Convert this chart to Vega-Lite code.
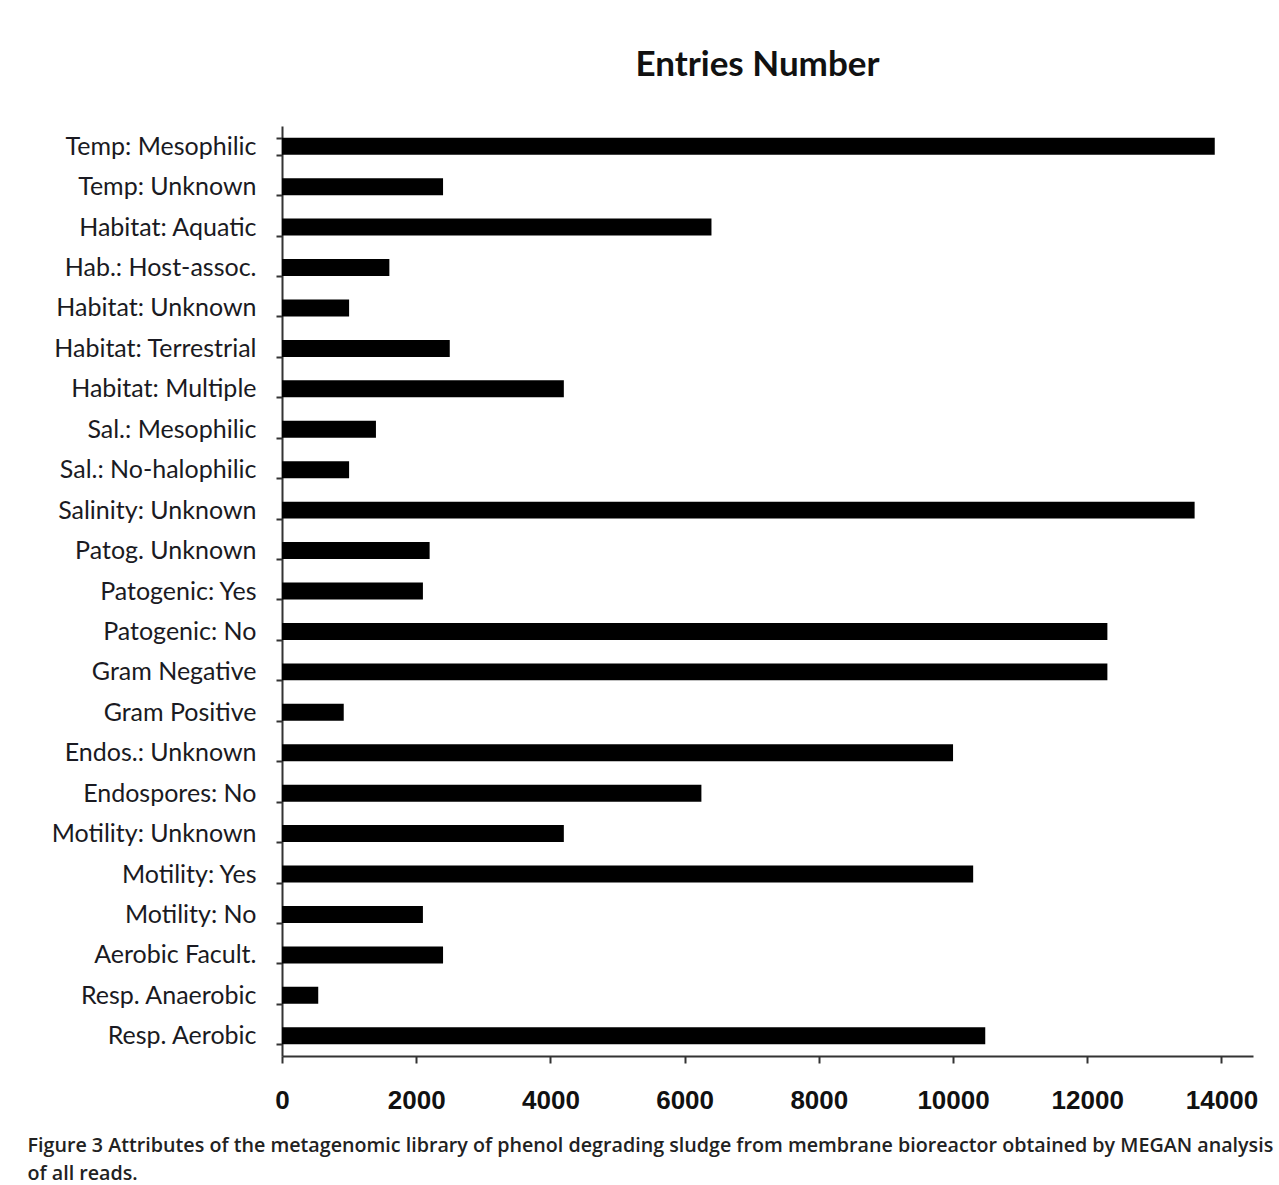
{
  "$schema": "https://vega.github.io/schema/vega-lite/v6.json",
  "width": 971,
  "height": 930,
  "autosize": {"type": "none"},
  "padding": {"left": 282, "top": 126, "right": 26, "bottom": 129},
  "background": "white",
  "title": {
    "text": "Entries Number",
    "font": "Lato",
    "fontSize": 35,
    "fontWeight": "bold",
    "color": "#111111",
    "anchor": "middle",
    "dx": -10,
    "offset": 31
  },
  "data": {
    "values": [
      {"attr": "Temp: Mesophilic", "n": 13900},
      {"attr": "Temp: Unknown", "n": 2400},
      {"attr": "Habitat: Aquatic", "n": 6400},
      {"attr": "Hab.: Host-assoc.", "n": 1600},
      {"attr": "Habitat: Unknown", "n": 1000},
      {"attr": "Habitat: Terrestrial", "n": 2500},
      {"attr": "Habitat: Multiple", "n": 4200},
      {"attr": "Sal.: Mesophilic", "n": 1400},
      {"attr": "Sal.: No-halophilic", "n": 1000},
      {"attr": "Salinity: Unknown", "n": 13600},
      {"attr": "Patog. Unknown", "n": 2200},
      {"attr": "Patogenic: Yes", "n": 2100},
      {"attr": "Patogenic: No", "n": 12300},
      {"attr": "Gram Negative", "n": 12300},
      {"attr": "Gram Positive", "n": 920},
      {"attr": "Endos.: Unknown", "n": 10000},
      {"attr": "Endospores: No", "n": 6250},
      {"attr": "Motility: Unknown", "n": 4200},
      {"attr": "Motility: Yes", "n": 10300},
      {"attr": "Motility: No", "n": 2100},
      {"attr": "Aerobic Facult.", "n": 2400},
      {"attr": "Resp. Anaerobic", "n": 540},
      {"attr": "Resp. Aerobic", "n": 10480}
    ]
  },
  "mark": {"type": "bar", "color": "#000000"},
  "encoding": {
    "y": {
      "field": "attr",
      "type": "nominal",
      "sort": null,
      "scale": {"paddingInner": 0.58, "paddingOuter": 0.29},
      "axis": {
        "title": null,
        "domainColor": "#333333",
        "domainWidth": 2,
        "tickColor": "#333333",
        "tickWidth": 2,
        "tickSize": 6,
        "tickBand": "extent",
        "labelFont": "Lato",
        "labelFontSize": 25,
        "labelLimit": 400,
        "labelColor": "#1a1a22",
        "labelPadding": 20,
        "grid": false
      }
    },
    "x": {
      "field": "n",
      "type": "quantitative",
      "scale": {"domain": [0, 14470], "nice": false, "zero": true},
      "axis": {
        "values": [0, 2000, 4000, 6000, 8000, 10000, 12000, 14000],
        "grid": false,
        "format": "d",
        "domainColor": "#333333",
        "domainWidth": 2,
        "tickColor": "#333333",
        "tickWidth": 2,
        "tickSize": 7,
        "labelFont": "Liberation Sans",
        "labelFontSize": 26,
        "labelFontWeight": "bold",
        "labelColor": "#111111",
        "labelPadding": 24,
        "labelFlush": false,
        "title": ["Figure 3 Attributes of the metagenomic library of phenol degrading sludge from membrane bioreactor obtained by MEGAN analysis", "of all reads."],
        "titleFont": "Open Sans",
        "titleFontSize": 19.7,
        "titleFontWeight": 600,
        "titleColor": "#222222",
        "titleAlign": "left",
        "titleAnchor": "start",
        "titleBaseline": "alphabetic",
        "titleLimit": 1265,
        "titleX": -255,
        "titleY": 95,
        "titleLineHeight": 28
      }
    }
  },
  "config": {"view": {"stroke": null}}
}
